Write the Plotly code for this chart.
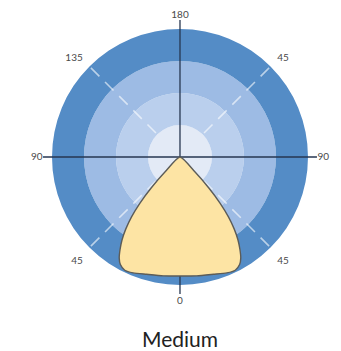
import plotly.graph_objects as go

# ring radii (outer edge) and fills, inner -> outer
ring_edges = [32, 64, 96, 128]
ring_colors = ["#e3eaf6", "#bacfed", "#9dbbe4", "#548cc6"]

# light distribution, angle from nadir (deg) -> intensity (same scale as rings)
gamma = [0, 8, 16, 22, 26, 29, 31, 33, 35, 37, 39, 41, 43, 45, 47]
intensity = [119, 120, 122, 125, 126, 123, 118, 110, 101, 90, 77, 61, 42, 21, 0]

tick_angles = [0, 45, 90, 135, 180, 225, 270, 315]
tick_labels = ["0", "45", "90", "135", "180", "45", "90", "45"]
axis_len = 137
title = "Medium"

fig = go.Figure()

bases = [0] + ring_edges[:-1]
fig.add_trace(go.Barpolar(
    r=[e - b for e, b in zip(ring_edges, bases)], base=bases,
    theta=[0] * len(ring_edges), width=[360] * len(ring_edges),
    marker=dict(color=ring_colors, line=dict(width=0)),
    hoverinfo="skip", showlegend=False,
))

# white dashed diagonals
for a in [45, 135, 225, 315]:
    fig.add_trace(go.Scatterpolar(
        r=[34, ring_edges[-1]], theta=[a, a], mode="lines",
        line=dict(color="rgba(255,255,255,0.6)", width=1.6, dash="12px,8px"),
        hoverinfo="skip", showlegend=False,
    ))

# cross axes
for a, b in [(90, 270), (0, 180)]:
    fig.add_trace(go.Scatterpolar(
        r=[axis_len, 0, axis_len], theta=[a, 0, b], mode="lines",
        line=dict(color="#263650", width=1.3),
        hoverinfo="skip", showlegend=False,
    ))

theta = [-g for g in reversed(gamma)] + gamma[1:]
r = list(reversed(intensity)) + intensity[1:]
fig.add_trace(go.Scatterpolar(
    r=r, theta=theta, mode="lines", fill="toself",
    fillcolor="#fde4a4", line=dict(color="#5c5c58", width=1.4, shape="spline", smoothing=0.6),
    hoverinfo="skip", showlegend=False,
))

# page body has an 8px margin, so the figure is sized to the remaining window
fig.update_layout(
    width=333, height=343,
    margin=dict(l=0, r=0, t=0, b=0),
    paper_bgcolor="white",
    font=dict(family="Lato, sans-serif"),
    polar=dict(
        domain=dict(x=[0.1051, 0.9279], y=[0.1662, 0.9650]),
        bgcolor="rgba(0,0,0,0)",
        radialaxis=dict(range=[0, axis_len], visible=False),
        angularaxis=dict(
            rotation=270, direction="clockwise",
            tickmode="array", tickvals=tick_angles, ticktext=tick_labels,
            showgrid=False, showline=False, ticks="",
            tickfont=dict(size=10, color="#4a4a4a"),
        ),
    ),
    annotations=[dict(
        text=title, x=0.5165, y=0.035, xref="paper", yref="paper",
        xanchor="center", yanchor="middle",
        showarrow=False, font=dict(size=21, color="#222222"),
    )],
)

fig.write_html("out.html")
